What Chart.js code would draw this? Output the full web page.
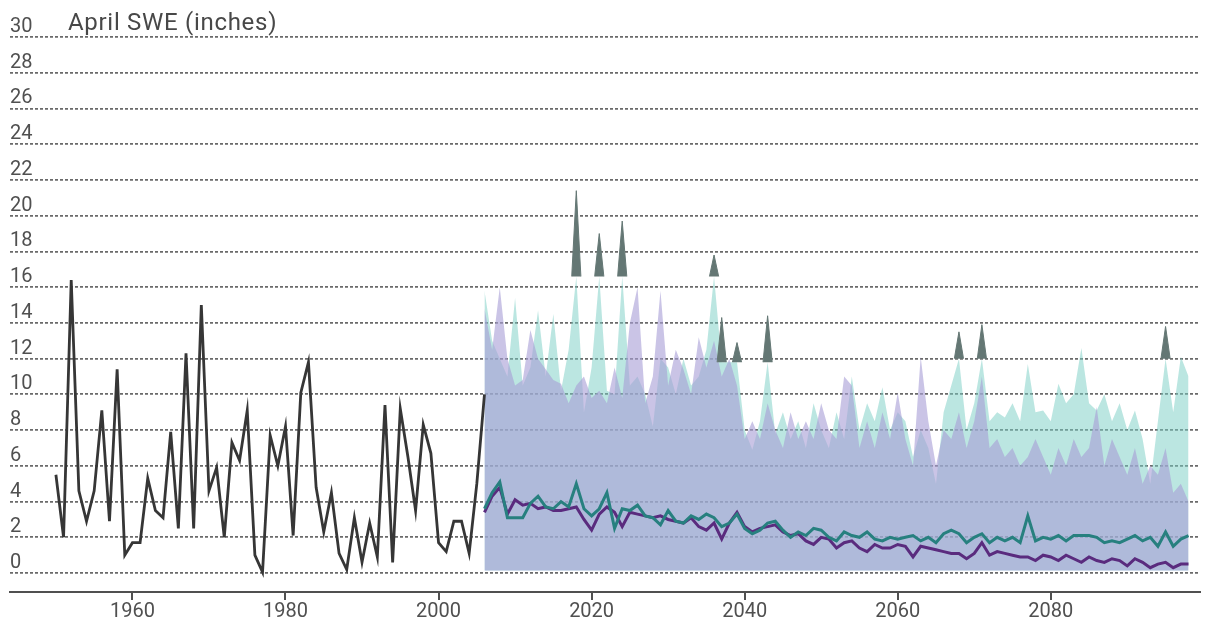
<!DOCTYPE html>
<html>
<head>
<meta charset="utf-8">
<script src="https://cdn.jsdelivr.net/npm/chart.js@4.4.1/dist/chart.umd.min.js"></script>
<style>
  html, body { margin: 0; padding: 0; background: #fff; }
  canvas { display: block; }
</style>
</head>
<body>
<canvas id="sweChart" width="1206" height="624"></canvas>
<script>
'use strict';

/* global Chart */

// ---- data -------------------------------------------------------
const HIST_START = 1950;
const PROJ_START = 2006;

// observed April SWE, 1950-2006
const histSwe = [
  5.5, 2.0, 16.4, 4.6, 2.9, 4.6, 9.1, 2.9, 11.4, 1.0,
  1.7, 1.7, 5.3, 3.5, 3.1, 7.9, 2.5, 12.3, 2.5, 15.0,
  4.6, 5.9, 2.0, 7.3, 6.3, 9.1, 1.0, 0.05, 7.7, 6.0,
  8.2, 2.1, 10.1, 11.8, 4.8, 2.3, 4.5, 1.1, 0.2, 3.1,
  0.6, 2.8, 0.9, 9.4, 0.6, 9.2, 6.5, 3.5, 8.3, 6.7,
  1.7, 1.2, 2.9, 2.9, 1.1, 5.0, 10.0
];

// projected medians, 2006-2098
const tealMedian = [
  3.6, 4.5, 5.1, 3.1, 3.1, 3.1, 3.9, 4.3, 3.7, 3.6,
  4.0, 3.7, 5.0, 3.6, 3.2, 3.6, 4.5, 2.5, 3.6, 3.5,
  3.8, 3.2, 3.1, 2.7, 3.5, 2.9, 2.8, 3.2, 3.0, 3.3,
  3.1, 2.6, 2.8, 3.3, 2.5, 2.2, 2.4, 2.8, 2.9, 2.4,
  2.0, 2.3, 2.1, 2.5, 2.4, 2.0, 1.8, 2.3, 2.1, 2.0,
  2.3, 1.9, 1.8, 2.0, 1.9, 2.0, 2.1, 1.8, 2.0, 1.7,
  2.2, 2.4, 2.2, 1.7, 2.0, 2.2, 1.7, 2.0, 1.8, 2.0,
  1.7, 3.2, 1.8, 2.0, 1.9, 2.1, 1.8, 2.1, 2.1, 2.1,
  2.0, 1.7, 1.8, 1.7, 1.9, 2.1, 1.8, 2.0, 1.5, 2.3,
  1.5, 1.9, 2.1
];
const purpleMedian = [
  3.4, 4.3, 4.8, 3.3, 4.1, 3.8, 3.9, 3.6, 3.7, 3.5,
  3.5, 3.6, 3.7, 3.0, 2.4, 3.3, 3.7, 3.4, 2.6, 3.4,
  3.3, 3.2, 3.1, 3.2, 3.0, 2.9, 2.8, 3.1, 2.6, 2.4,
  2.8, 1.9, 2.8, 3.4, 2.6, 2.3, 2.5, 2.6, 2.7, 2.3,
  2.1, 2.2, 1.8, 1.6, 2.0, 1.9, 1.4, 1.7, 1.8, 1.4,
  1.2, 1.6, 1.4, 1.4, 1.6, 1.5, 0.9, 1.5, 1.4, 1.3,
  1.2, 1.1, 1.1, 0.8, 1.1, 1.7, 1.0, 1.2, 1.1, 1.0,
  0.9, 0.9, 0.7, 1.0, 0.9, 0.7, 1.0, 0.8, 0.6, 0.9,
  0.7, 0.6, 0.8, 0.7, 0.4, 0.8, 0.6, 0.3, 0.5, 0.6,
  0.3, 0.5, 0.5
];

// upper edge of the projected ranges, 2006-2098
const tealUpper = [
  15.8, 13.0, 12.0, 11.0, 15.4, 10.5, 11.5, 14.7, 11.0, 14.5,
  10.2, 12.5, 16.6, 9.0, 11.5, 16.6, 10.2, 10.0, 16.6, 10.5,
  11.0, 10.0, 8.2, 12.0, 11.5, 10.0, 12.0, 10.5, 11.0, 12.5,
  16.6, 11.8, 11.8, 11.8, 8.0, 6.9, 8.5, 11.8, 7.8, 9.0,
  7.5, 8.5, 7.0, 9.5, 8.0, 7.0, 9.0, 7.5, 11.0, 8.0,
  9.5, 8.5, 10.4, 8.0, 9.0, 8.5, 6.5, 8.0, 7.0, 5.0,
  9.0, 10.5, 12.0, 8.0, 9.5, 12.0, 8.5, 9.0, 8.7, 9.5,
  8.5, 11.7, 9.0, 9.1, 8.5, 10.6, 9.5, 10.0, 12.6, 9.5,
  9.1, 10.0, 8.5, 9.5, 8.0, 9.1, 7.5, 5.0, 8.5, 12.0,
  9.0, 12.1, 11.0
];
const purpleUpper = [
  14.8, 12.5, 16.0, 12.0, 10.5, 10.8, 13.6, 12.0, 11.4, 10.8,
  10.6, 9.5, 10.5, 11.0, 9.8, 10.2, 9.5, 11.5, 9.8, 14.0,
  16.0, 9.5, 11.0, 15.8, 10.5, 12.5, 11.4, 10.0, 13.2, 11.5,
  13.0, 11.0, 12.0, 10.5, 7.5, 8.5, 7.5, 9.5, 8.0, 7.0,
  9.0, 7.5, 8.5, 7.5, 9.5, 8.0, 7.5, 11.0, 10.5, 7.0,
  8.5, 7.0, 9.0, 7.5, 10.1, 7.5, 6.0, 12.1, 8.5, 6.0,
  8.0, 7.5, 9.0, 7.0, 8.5, 11.0, 7.0, 7.5, 6.5, 7.0,
  6.0, 6.5, 7.5, 6.5, 5.5, 7.0, 6.0, 7.5, 6.5, 7.0,
  9.3, 6.0, 7.5, 6.5, 5.5, 7.0, 5.0, 6.0, 5.5, 7.0,
  4.5, 5.0, 4.0
];
const RANGE_FLOOR = 0.15;

// darker peaks that stick out of the ranges
const peakYears = [2018, 2021, 2024, 2036, 2037, 2039, 2043, 2068, 2071, 2095];
const peakTops  = [21.4, 19.0, 19.7, 17.8, 14.3, 12.9, 14.4, 13.5, 13.9, 13.8];
const peakBases = [16.6, 16.6, 16.6, 16.6, 11.8, 11.8, 11.8, 12.0, 12.0, 12.0];

const xTicks = [1960, 1980, 2000, 2020, 2040, 2060, 2080];
const yTicks = [0, 2, 4, 6, 8, 10, 12, 14, 16, 18, 20, 22, 24, 26, 28, 30];
const Y_TITLE = 'April SWE (inches)';

// ---- helpers ----------------------------------------------------
const FONT = 'Roboto, "Noto Sans", sans-serif';
const TEXT = '#505050';

function series(start, values) {
  return values.map((v, i) => ({ x: start + i, y: v }));
}

function peakSet(i) {
  const yr = peakYears[i];
  return {
    data: [
      { x: yr - 0.6, y: peakBases[i] },
      { x: yr,       y: peakTops[i] },
      { x: yr + 0.6, y: peakBases[i] }
    ],
    borderColor: '#647774', borderWidth: 1,
    backgroundColor: '#647774',
    pointRadius: 0, tension: 0,
    fill: { value: peakBases[i] }
  };
}

const axisTitle = {
  id: 'axisTitle',
  afterDraw(chart) {
    const { ctx, scales } = chart;
    const y = scales.y.getPixelForValue(yTicks[yTicks.length - 1]);
    ctx.save();
    ctx.font = '24px ' + FONT;
    ctx.letterSpacing = '0.7px';
    ctx.fillStyle = '#484848';
    ctx.textAlign = 'left';
    ctx.textBaseline = 'bottom';
    ctx.fillText(Y_TITLE, 68, y - 1);
    ctx.restore();
  }
};

// ---- chart ------------------------------------------------------
const datasets = [
  {
    data: series(HIST_START, histSwe),
    borderColor: '#363636', borderWidth: 2.8,
    pointRadius: 0, tension: 0, fill: false
  },
  {
    data: series(PROJ_START, tealMedian),
    borderColor: '#27807f', borderWidth: 3,
    pointRadius: 0, tension: 0, fill: false
  },
  {
    data: series(PROJ_START, purpleMedian),
    borderColor: '#5a2b7e', borderWidth: 3,
    pointRadius: 0, tension: 0, fill: false
  },
  ...peakYears.map((_, i) => peakSet(i)),
  {
    data: series(PROJ_START, purpleUpper),
    borderColor: 'transparent', borderWidth: 0,
    backgroundColor: 'rgba(170,160,215,0.62)',
    pointRadius: 0, tension: 0, fill: { value: RANGE_FLOOR }
  },
  {
    data: series(PROJ_START, tealUpper),
    borderColor: 'transparent', borderWidth: 0,
    backgroundColor: 'rgba(120,205,195,0.5)',
    pointRadius: 0, tension: 0, fill: { value: RANGE_FLOOR }
  }
];

new Chart(document.getElementById('sweChart'), {
  type: 'line',
  data: { datasets },
  options: {
    responsive: false, animation: false, devicePixelRatio: 1,
    layout: { padding: { top: 37, left: 10, right: 6, bottom: 0 } },
    plugins: { legend: { display: false }, tooltip: { enabled: false } },
    scales: {
      x: {
        type: 'linear', min: 1944, max: 2099.5,
        afterBuildTicks: s => { s.ticks = xTicks.map(v => ({ value: v })); },
        grid: { drawOnChartArea: false, drawTicks: true, tickLength: 8, color: TEXT, lineWidth: 2 },
        border: { display: true, color: TEXT, width: 2 },
        ticks: {
          color: TEXT, padding: 0, maxRotation: 0, autoSkip: false,
          font: { family: FONT, size: 20, lineHeight: 1.2 },
          callback: v => String(v)
        }
      },
      y: {
        type: 'linear', min: -1.06, max: 30,
        afterBuildTicks: s => { s.ticks = yTicks.map(v => ({ value: v })); },
        grid: { drawTicks: false, color: '#6a6a6a', lineWidth: 1.8 },
        border: { display: false, dash: [3, 2] },
        ticks: {
          mirror: true, align: 'end', padding: 0,
          color: TEXT, font: { family: FONT, size: 20 },
          callback: v => String(v)
        }
      }
    }
  },
  plugins: [axisTitle]
});
</script>
</body>
</html>
